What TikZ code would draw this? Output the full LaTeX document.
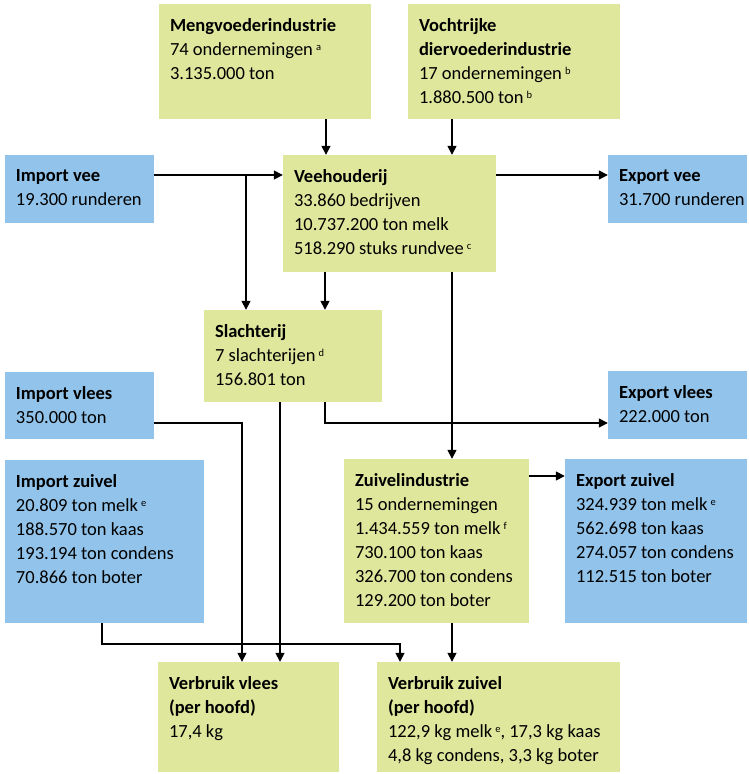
\documentclass[tikz,border=0pt]{standalone}
\usepackage{fontspec}
\setmainfont{Carlito}
\usetikzlibrary{arrows.meta}
\definecolor{gr}{RGB}{222,231,155}
\definecolor{bl}{RGB}{146,196,235}
\tikzset{
  x=1pt,y=-1pt,
  boxshape/.style={rectangle, inner sep=0pt, draw=none},
  txt/.style={anchor=north west, inner sep=0pt, align=left, font=\fontsize{18.5}{24}\selectfont},
  arr/.style={line width=1.5pt, -{Triangle[length=9pt,width=9pt]}},
}
\newcommand\supr[1]{\,\raisebox{0.6ex}{\fontsize{10.5}{10.5}\selectfont #1}}
\newcommand\mybox[7]{%
  \node[boxshape, fill=#6, minimum width={(#4-#2)*1pt}, minimum height={(#5-#3)*1pt}] (#1) at ({(#2+#4)/2},{(#3+#5)/2}) {};
  \node[txt] (#1t) at ([xshift=11pt,yshift=-14.5pt]#1.north west) {#7};
}
\begin{document}
\begin{tikzpicture}
\useasboundingbox (0,0) rectangle (749,774);
\fill[white] (0,0) rectangle (749,774);
\mybox{meng}{159}{4}{371}{119}{gr}{\textbf{Mengvoederindustrie}\\74 ondernemingen\supr{a}\\3.135.000 ton}
\mybox{voch}{408}{4}{620}{119}{gr}{\textbf{Vochtrijke}\\\textbf{diervoederindustrie}\\17 ondernemingen\supr{b}\\1.880.500 ton\supr{b}}
\mybox{impvee}{5}{155}{154}{223}{bl}{\textbf{Import vee}\\19.300 runderen}
\mybox{vee}{283}{155}{496}{272}{gr}{\textbf{Veehouderij}\\33.860 bedrijven\\10.737.200 ton melk\\518.290 stuks rundvee\supr{c}}
\mybox{expvee}{608}{155}{747}{223}{bl}{\textbf{Export vee}\\31.700 runderen}
\mybox{slacht}{204}{310}{382}{402}{gr}{\textbf{Slachterij}\\7 slachterijen\supr{d}\\156.801 ton}
\mybox{impvlees}{5}{372}{154}{439}{bl}{\textbf{Import vlees}\\350.000 ton}
\mybox{expvlees}{608}{371}{747}{439}{bl}{\textbf{Export vlees}\\222.000 ton}
\mybox{impzuiv}{5}{460}{204}{623}{bl}{\textbf{Import zuivel}\\20.809 ton melk\supr{e}\\188.570 ton kaas\\193.194 ton condens\\70.866 ton boter}
\mybox{zuivind}{344}{459}{529}{623}{gr}{\textbf{Zuivelindustrie}\\15 ondernemingen\\1.434.559 ton melk\supr{f}\\730.100 ton kaas\\326.700 ton condens\\129.200 ton boter}
\mybox{expzuiv}{565}{459}{747}{623}{bl}{\textbf{Export zuivel}\\324.939 ton melk\supr{e}\\562.698 ton kaas\\274.057 ton condens\\112.515 ton boter}
\mybox{verbvlees}{158}{662}{339}{772}{gr}{\textbf{Verbruik vlees}\\\textbf{(per hoofd)}\\17,4 kg}
\mybox{verbzuiv}{377}{662}{620}{772}{gr}{\textbf{Verbruik zuivel}\\\textbf{(per hoofd)}\\122,9 kg melk\supr{e}, 17,3 kg kaas\\4,8 kg condens, 3,3 kg boter}
% connectors
\coordinate (c1) at (246,175);
\coordinate (c2) at (325,423);
\coordinate (c3) at (242,423);
\coordinate (c4) at (102,644);
\coordinate (c5) at (400,644);
\draw[arr] (meng.south -| 326,0) -- (vee.north -| 326,0);
\draw[arr] (voch.south -| 452,0) -- (vee.north -| 452,0);
\draw[arr] (impvee.east |- c1) -- (vee.west |- c1);
\draw[arr] (c1) -- (slacht.north -| c1);
\draw[arr] (vee.east |- c1) -- (expvee.west |- c1);
\draw[arr] (vee.south -| 325,0) -- (slacht.north -| 325,0);
\draw[arr] (vee.south -| 452,0) -- (zuivind.north -| 452,0);
\draw[arr] (slacht.south -| 280,0) -- (verbvlees.north -| 280,0);
\draw[arr] (slacht.south -| c2) -- (c2) -- (expvlees.west |- c2);
\draw[arr] (impvlees.east |- c3) -- (c3) -- (verbvlees.north -| c3);
\draw[arr] (zuivind.east |- 0,476) -- (expzuiv.west |- 0,476);
\draw[arr] (impzuiv.south -| c4) -- (c4) -- (c5) -- (verbzuiv.north -| c5);
\draw[arr] (zuivind.south -| 452,0) -- (verbzuiv.north -| 452,0);
\end{tikzpicture}
\end{document}
